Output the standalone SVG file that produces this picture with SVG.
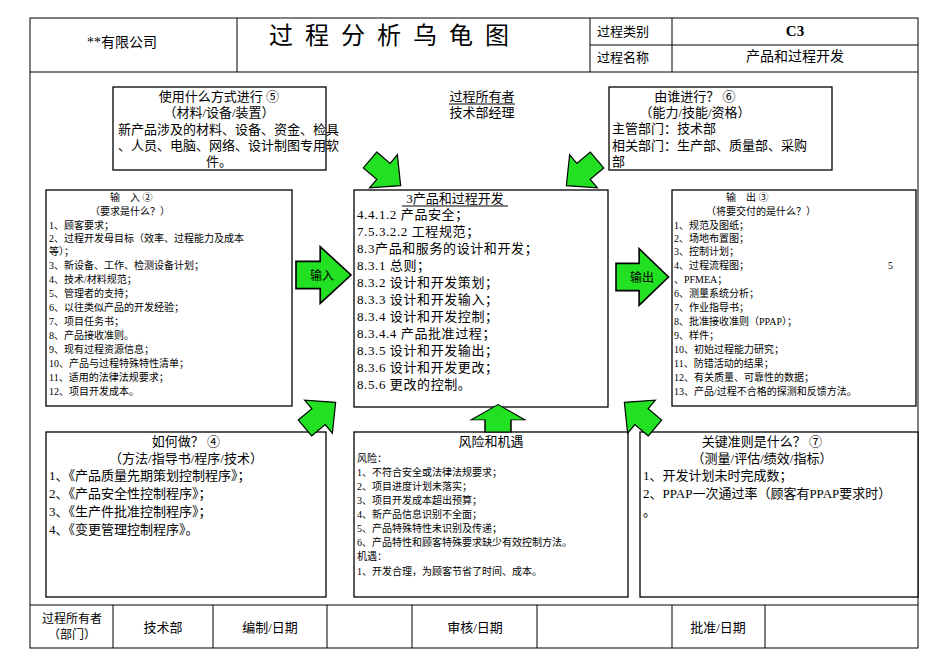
<svg xmlns="http://www.w3.org/2000/svg" width="950" height="672" viewBox="0 0 950 672">
<defs>
<style>
text{font-family:"Liberation Serif","Noto Sans CJK SC",serif;fill:#000}
.b{fill:#fff;stroke:#000;stroke-width:1.3}
.l{stroke:#000;stroke-width:1;fill:none}
.s10{font-size:10px}.s12{font-size:12px}.s13{font-size:13px}.s14{font-size:14px}
.ar{fill:#22e022;stroke:#000;stroke-width:1.5}
.m{text-anchor:middle}
</style>
<path id="arr" d="M0,-13 L22,-13 L22,-27 L50,0 L22,27 L22,13 L0,13 Z"/>
</defs>
<rect width="950" height="672" fill="#fff"/>
<g id="frame">
<rect x="30" y="18" width="888" height="630" class="l"/>
<line x1="30" y1="72" x2="918" y2="72" class="l"/>
<line x1="590" y1="45" x2="918" y2="45" class="l"/>
<line x1="237" y1="18" x2="237" y2="72" class="l"/>
<line x1="590" y1="18" x2="590" y2="72" class="l"/>
<line x1="672" y1="18" x2="672" y2="72" class="l"/>
<text x="122" y="47" class="s14 m">**有限公司</text>
<text x="395" y="44" class="m" style="font-size:24px;letter-spacing:12px">过程分析乌龟图</text>
<text x="623" y="36" class="s13 m">过程类别</text>
<text x="623" y="62" class="s13 m">过程名称</text>
<text x="795" y="36" class="m" style="font-size:15px;font-weight:bold">C3</text>
<text x="795" y="61" class="s14 m">产品和过程开发</text>
<line x1="30" y1="605" x2="918" y2="605" class="l"/>
<line x1="113" y1="605" x2="113" y2="648" class="l"/>
<line x1="213" y1="605" x2="213" y2="648" class="l"/>
<line x1="327" y1="605" x2="327" y2="648" class="l"/>
<line x1="412" y1="605" x2="412" y2="648" class="l"/>
<line x1="537" y1="605" x2="537" y2="648" class="l"/>
<line x1="672" y1="605" x2="672" y2="648" class="l"/>
<line x1="765" y1="605" x2="765" y2="648" class="l"/>
<text x="72" y="623" class="s12 m">过程所有者</text>
<text x="72" y="639" class="s12 m">（部门）</text>
<text x="163" y="632" class="s13 m">技术部</text>
<text x="270" y="632" class="s13 m">编制/日期</text>
<text x="475" y="632" class="s13 m">审核/日期</text>
<text x="718" y="632" class="s13 m">批准/日期</text>
</g>
<g id="method">
<rect x="113" y="87" width="213" height="83" class="b"/>
<text class="s13"><tspan x="219" y="101" class="m">使用什么方式进行 ⑤</tspan><tspan x="219" y="117" class="m">（材料/设备/装置）</tspan><tspan x="118" y="134">新产品涉及的材料、设备、资金、检具</tspan><tspan x="118" y="150">、人员、电脑、网络、设计制图专用软</tspan><tspan x="219" y="166" class="m">件。</tspan></text>
</g>
<g id="owner">
<text x="482" y="101" class="s13 m">过程所有者</text>
<line x1="449" y1="104" x2="515" y2="104" class="l"/>
<text x="482" y="117" class="s13 m">技术部经理</text>
</g>
<g id="who">
<rect x="609" y="87" width="223" height="83" class="b"/>
<text class="s13"><tspan x="695" y="101" class="m">由谁进行？ ⑥</tspan><tspan x="695" y="117" class="m">（能力/技能/资格）</tspan><tspan x="612" y="133">主管部门：技术部</tspan><tspan x="612" y="150">相关部门：生产部、质量部、采购</tspan><tspan x="612" y="166">部</tspan></text>
</g>
<g id="input">
<rect x="46" y="190" width="246" height="216" class="b"/>
<text class="s10"><tspan x="110" y="201">输　入 ②</tspan><tspan x="90" y="215">（要求是什么？）</tspan><tspan x="49" y="229">1、顾客要求；</tspan><tspan x="49" y="242">2、过程开发母目标（效率、过程能力及成本</tspan><tspan x="49" y="255">等）；</tspan><tspan x="49" y="269">3、新设备、工作、检测设备计划；</tspan><tspan x="49" y="283">4、技术/材料规范；</tspan><tspan x="49" y="297">5、管理者的支持；</tspan><tspan x="49" y="311">6、以往类似产品的开发经验；</tspan><tspan x="49" y="325">7、项目任务书；</tspan><tspan x="49" y="339">8、产品接收准则。</tspan><tspan x="49" y="353">9、现有过程资源信息；</tspan><tspan x="49" y="367">10、产品与过程特殊特性清单；</tspan><tspan x="49" y="381">11、适用的法律法规要求；</tspan><tspan x="49" y="395">12、项目开发成本。</tspan></text>
</g>
<g id="center">
<rect x="354" y="190" width="254" height="217" class="b"/>
<text x="455" y="203" class="s13 m">3产品和过程开发</text>
<line x1="402" y1="206" x2="508" y2="206" class="l"/>
<text class="s13" style="letter-spacing:0.6px"><tspan x="357" y="219">4.4.1.2 产品安全；</tspan><tspan x="357" y="236">7.5.3.2.2 工程规范；</tspan><tspan x="357" y="253">8.3产品和服务的设计和开发；</tspan><tspan x="357" y="270">8.3.1 总则；</tspan><tspan x="357" y="287">8.3.2 设计和开发策划；</tspan><tspan x="357" y="304">8.3.3 设计和开发输入；</tspan><tspan x="357" y="321">8.3.4 设计和开发控制；</tspan><tspan x="357" y="338">8.3.4.4 产品批准过程；</tspan><tspan x="357" y="355">8.3.5 设计和开发输出；</tspan><tspan x="357" y="372">8.3.6 设计和开发更改；</tspan><tspan x="357" y="389">8.5.6 更改的控制。</tspan></text>
</g>
<g id="output">
<rect x="672" y="190" width="244" height="216" class="b"/>
<text class="s10"><tspan x="726" y="201">输　出 ③</tspan><tspan x="706" y="215">（将要交付的是什么？）</tspan><tspan x="674" y="229">1、规范及图纸；</tspan><tspan x="674" y="242">2、场地布置图；</tspan><tspan x="674" y="255">3、控制计划；</tspan><tspan x="674" y="269">4、过程流程图；</tspan><tspan x="888" y="269">5</tspan><tspan x="674" y="283">、PFMEA；</tspan><tspan x="674" y="297">6、测量系统分析；</tspan><tspan x="674" y="311">7、作业指导书；</tspan><tspan x="674" y="325">8、批准接收准则（PPAP）；</tspan><tspan x="674" y="339">9、样件；</tspan><tspan x="674" y="353">10、初始过程能力研究；</tspan><tspan x="674" y="367">11、防错活动的结果；</tspan><tspan x="674" y="381">12、有关质量、可靠性的数据；</tspan><tspan x="674" y="395">13、产品/过程不合格的探测和反馈方法。</tspan></text>
</g>
<g id="how">
<rect x="46" y="432" width="280" height="165" class="b"/>
<text class="s13"><tspan x="186" y="446" class="m">如何做？ ④</tspan><tspan x="186" y="463" class="m">（方法/指导书/程序/技术）</tspan><tspan x="49" y="480">1、《产品质量先期策划控制程序》；</tspan><tspan x="49" y="498">2、《产品安全性控制程序》；</tspan><tspan x="49" y="516">3、《生产件批准控制程序》；</tspan><tspan x="49" y="534">4、《变更管理控制程序》。</tspan></text>
</g>
<g id="risk">
<rect x="354" y="432" width="274" height="165" class="b"/>
<text x="491" y="446" class="s13 m">风险和机遇</text>
<text class="s10"><tspan x="357" y="462">风险：</tspan><tspan x="357" y="476">1、不符合安全或法律法规要求；</tspan><tspan x="357" y="490">2、项目进度计划未落实；</tspan><tspan x="357" y="504">3、项目开发成本超出预算；</tspan><tspan x="357" y="518">4、新产品信息识别不全面；</tspan><tspan x="357" y="532">5、产品特殊特性未识别及传递；</tspan><tspan x="357" y="546">6、产品特性和顾客特殊要求缺少有效控制方法。</tspan><tspan x="357" y="560">机遇：</tspan><tspan x="357" y="575">1、开发合理，为顾客节省了时间、成本。</tspan></text>
</g>
<g id="criteria">
<rect x="640" y="432" width="278" height="165" class="b"/>
<text class="s13"><tspan x="762" y="446" class="m">关键准则是什么？ ⑦</tspan><tspan x="762" y="463" class="m">（测量/评估/绩效/指标）</tspan><tspan x="643" y="480">1、开发计划未时完成数；</tspan><tspan x="643" y="498">2、PPAP一次通过率（顾客有PPAP要求时）</tspan><tspan x="643" y="516">。</tspan></text>
</g>
<g id="connectors">
<use href="#arr" class="ar" transform="translate(296,275) scale(1.1,1.05)"/>
<text x="322" y="280" class="s12 m">输入</text>
<use href="#arr" class="ar" transform="translate(616,277) scale(1.05,1.05)"/>
<text x="642" y="282" class="s12 m">输出</text>
<use href="#arr" class="ar" transform="translate(370,160) rotate(40) scale(0.8)"/>
<use href="#arr" class="ar" transform="translate(597,160) rotate(140) scale(0.8)"/>
<use href="#arr" class="ar" transform="translate(305,428) rotate(-40) scale(0.8)"/>
<use href="#arr" class="ar" transform="translate(498,432) rotate(-90) scale(0.55,1)"/>
<use href="#arr" class="ar" transform="translate(655,428) rotate(-140) scale(0.8)"/>
</g>
</svg>
